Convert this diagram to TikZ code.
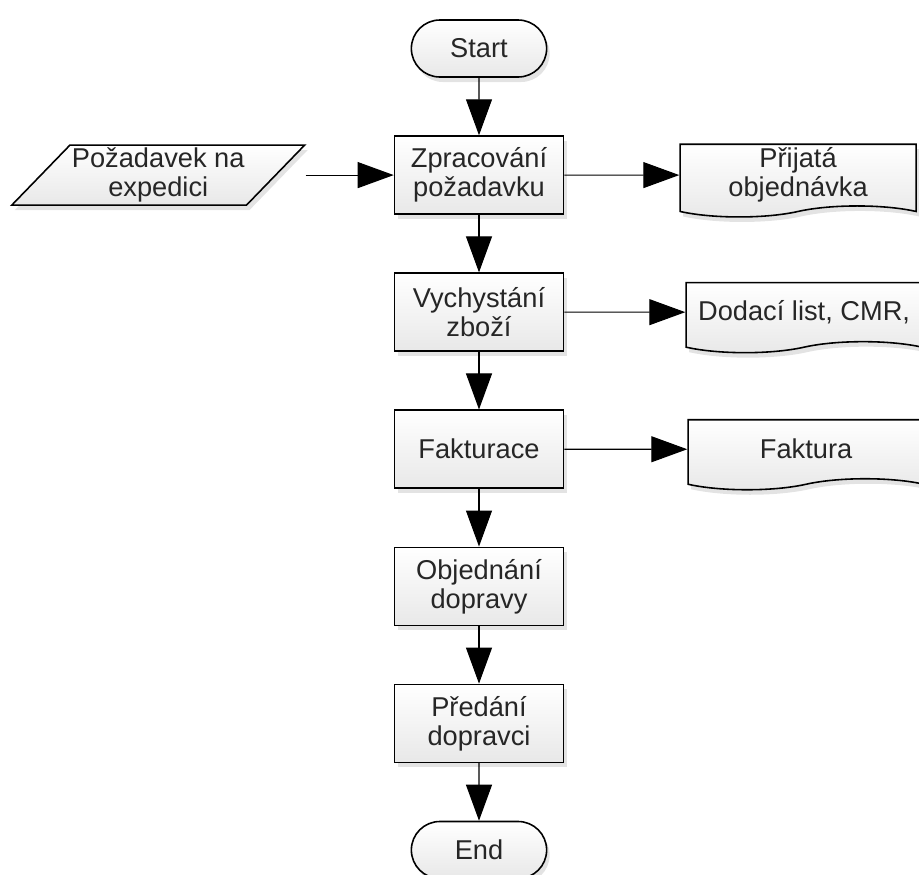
\documentclass[tikz,border=0pt]{standalone}
\usepackage{fontspec}
\setmainfont{Liberation Sans}
\usetikzlibrary{shapes.geometric, shapes.misc, shapes.symbols, arrows.meta, positioning, shadows}

\begin{document}
\begin{tikzpicture}[
    node distance=1.15cm,
    font=\fontsize{15.5}{16.5}\selectfont,
    shade/.style={top color=white, bottom color=gray!18, draw, line width=0.9pt, text=black!85,
        drop shadow={shadow xshift=0.06cm, shadow yshift=-0.1cm, opacity=0.22}},
    terminal/.style={rounded rectangle, shade, minimum width=2.94cm, minimum height=1.14cm},
    process/.style={rectangle, shade, align=center, minimum width=3.38cm, minimum height=1.56cm},
    data/.style={trapezium, trapezium left angle=45, trapezium right angle=135, trapezium stretches=true,
        shade, align=center, minimum width=5.86cm, minimum height=1.2cm, inner sep=1pt},
    doc/.style={tape, tape bend top=none, tape bend height=0.22cm, shade, align=center,
        minimum width=4.72cm, minimum height=1.4cm, inner sep=2pt},
    arrow/.style={-{Triangle[length=0.72cm, width=0.52cm]}, line width=0.6pt}
]
\useasboundingbox (0,0) rectangle (18.38,-17.48);

% Main flow
\node[terminal] (start) at (9.58,-0.97) {Start};
\node[process, below=of start] (zprac) {Zpracování\\požadavku};
\node[process, below=of zprac] (vych) {Vychystání\\zboží};
\node[process, below=of vych] (fakt) {Fakturace};
\node[process, below=of fakt] (obj) {Objednání\\dopravy};
\node[process, below=of obj] (pred) {Předání\\dopravci};
\node[terminal, below=of pred] (end) {End};

% Input
\node[data, left=2.34cm of zprac] (pozad) {Požadavek na\\expedici};

% Documents
\node[doc, right=2.3cm of zprac] (prijata) {Přijatá\\objednávka};
\node[doc, right=2.42cm of vych] (dodaci) {Dodací list, CMR,};
\node[doc, right=2.46cm of fakt] (faktura) {Faktura};

% Arrows
\draw[arrow] (start) -- (zprac);
\draw[arrow] (zprac) -- (vych);
\draw[arrow] (vych) -- (fakt);
\draw[arrow] (fakt) -- (obj);
\draw[arrow] (obj) -- (pred);
\draw[arrow] (pred) -- (end);
\draw[arrow] ([xshift=0.58cm]pozad.east) -- (zprac.west);
\draw[arrow] (zprac) -- (prijata);
\draw[arrow] (vych) -- (dodaci);
\draw[arrow] (fakt) -- (faktura);

\end{tikzpicture}
\end{document}
